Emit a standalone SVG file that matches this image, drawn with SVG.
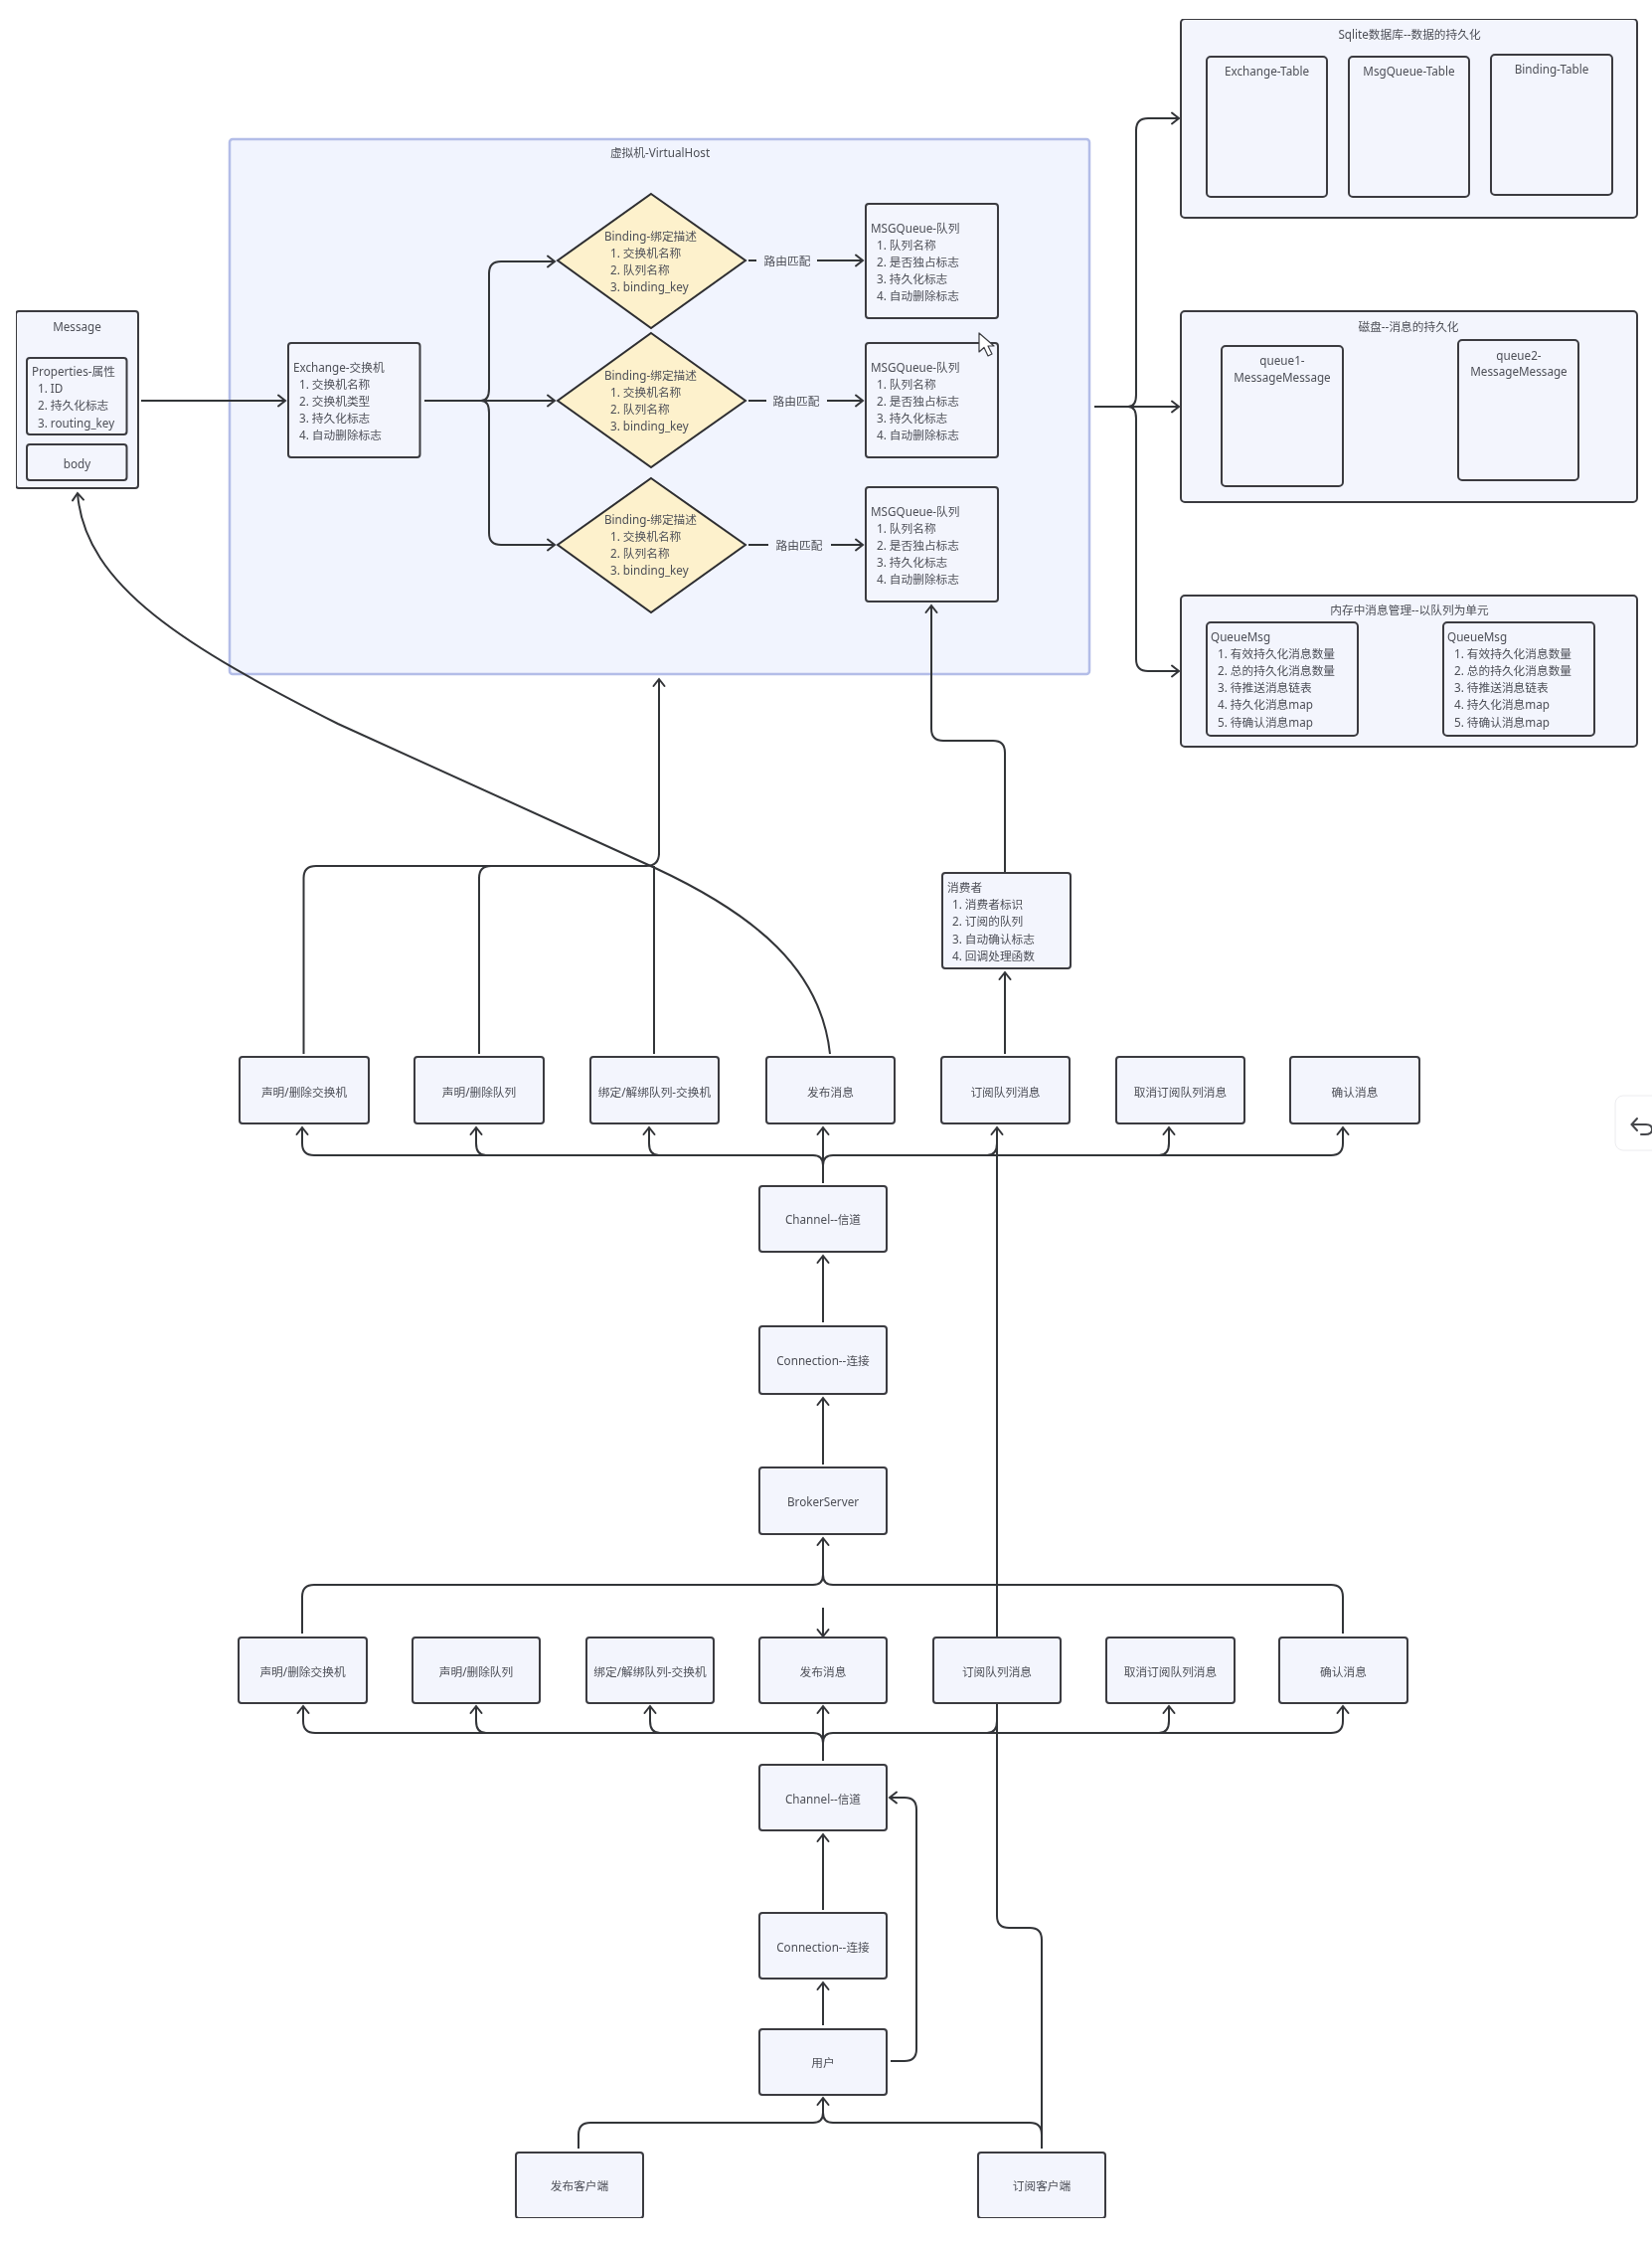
<svg xmlns="http://www.w3.org/2000/svg" width="1662" height="2254" viewBox="0 0 1662 2254">
<style>
text{font-family:"Noto Sans","Noto Sans CJK SC",sans-serif;font-size:11.7px;fill:#4d4f57}
.m{text-anchor:middle;dominant-baseline:central}
.n{fill:#f3f5fd;stroke:#3a3b40;stroke-width:2}
.d{fill:#fdf1cc;stroke:#2e2e30;stroke-width:2}
.v{fill:#f1f4fe;stroke:#b3bde8;stroke-width:2.5}
.c{fill:none;stroke:#333438;stroke-width:2;stroke-linejoin:round;marker-end:url(#a)}
.l{fill:none;stroke:#333438;stroke-width:2;stroke-linejoin:round}
</style>
<defs>
<marker id="a" markerUnits="userSpaceOnUse" markerWidth="14" markerHeight="14" refX="10" refY="7" orient="auto"><path d="M3,1.5 L10,7 L3,12.5" fill="none" stroke="#333438" stroke-width="2" stroke-linecap="round"/></marker>
<filter id="soft" x="0" y="0" width="100%" height="100%"><feGaussianBlur stdDeviation="0.45"/></filter>
</defs>
<rect width="1662" height="2254" fill="#ffffff"/>
<g filter="url(#soft)">
<g id="virtualhost"><rect class="v" x="231" y="140" width="865" height="538" rx="3"/><text class="m" x="664" y="153">虚拟机-VirtualHost</text></g>
<g id="connectors">
<path class="c" d="M142,403 H287"/>
<path class="c" d="M427,403 H558"/>
<path class="c" d="M484,403 Q492,403 492,391 V275 Q492,263 504,263 H558"/>
<path class="c" d="M484,403 Q492,403 492,415 V536 Q492,548 504,548 H558"/>
<path class="l" d="M753,262 H761"/><path class="c" d="M822,262 H868"/>
<path class="l" d="M753,403 H771"/><path class="c" d="M832,403 H868"/>
<path class="l" d="M753,548 H773"/><path class="c" d="M836,548 H868"/>
<path class="c" d="M1101,409 H1186"/>
<path class="c" d="M1135,409 Q1143,409 1143,397 V131 Q1143,119 1155,119 H1186"/>
<path class="c" d="M1135,409 Q1143,409 1143,421 V663 Q1143,675 1155,675 H1186"/>
<path class="l" d="M305.5,1060 V883 Q305.5,871 318,871 H650 Q663,871 663,858"/>
<path class="c" d="M663,860 V683"/>
<path class="l" d="M482,1060 V883 Q482,871 494,871"/>
<path class="l" d="M658,1060 V871"/>
<path class="c" d="M835,1060 C826,975 760,920 659,873 L340,728 C190,652 85,590 78,496"/>
<path class="c" d="M1011,1060 V978"/>
<path class="c" d="M1011,880 V757 Q1011,745 999,745 H949 Q937,745 937,733 V609"/>
<path class="c" d="M828,1190 V1134"/>
<path class="c" d="M828,1172 Q828,1162 818,1162 H316 Q304,1162 304,1150 V1134"/>
<path class="c" d="M489,1162 Q479,1162 479,1150 V1134"/>
<path class="c" d="M663,1162 Q653,1162 653,1150 V1134"/>
<path class="c" d="M828,1172 Q828,1162 838,1162 H1339 Q1351,1162 1351,1150 V1134"/>
<path class="c" d="M1166,1162 Q1176,1162 1176,1150 V1134"/>
<path class="l" d="M993,1162 Q1003,1162 1003,1150"/>
<path class="c" d="M828,1330 V1263"/>
<path class="c" d="M828,1473 V1406"/>
<path class="c" d="M304,1643 V1606 Q304,1594 316,1594 H818 Q828,1594 828,1584 V1547"/>
<path class="l" d="M1351,1643 V1606 Q1351,1594 1339,1594 H838 Q828,1594 828,1584"/>
<path class="c" d="M828,1617 V1646"/>
<path class="c" d="M828,1771 V1716"/>
<path class="c" d="M828,1753 Q828,1743 818,1743 H317 Q305,1743 305,1731 V1716"/>
<path class="c" d="M489,1743 Q479,1743 479,1731 V1716"/>
<path class="c" d="M664,1743 Q654,1743 654,1731 V1716"/>
<path class="c" d="M828,1753 Q828,1743 838,1743 H1339 Q1351,1743 1351,1731 V1716"/>
<path class="c" d="M1166,1743 Q1176,1743 1176,1731 V1716"/>
<path class="l" d="M993,1743 Q1003,1743 1003,1731"/>
<path class="c" d="M1048,2161 V1951 Q1048,1939 1036,1939 H1015 Q1003,1939 1003,1927 V1134"/>
<path class="c" d="M828,1921 V1845"/>
<path class="c" d="M828,2037 V1994"/>
<path class="c" d="M896,2073 H910 Q922,2073 922,2061 V1820 Q922,1808 910,1808 H895"/>
<path class="c" d="M582,2161 V2147 Q582,2135 594,2135 H818 Q828,2135 828,2125 V2110"/>
<path class="l" d="M1048,2147 Q1048,2135 1036,2135 H838 Q828,2135 828,2125"/>
</g>
<g id="message"><rect class="n" x="16" y="313" width="123" height="178" rx="3"/><text class="m" x="77.500" y="328">Message</text></g>
<g id="properties"><rect class="n" x="27" y="360" width="100.500" height="77" rx="3"/><text x="32" y="378">Properties-属性</text><text x="38" y="395">1. ID</text><text x="38" y="412">2. 持久化标志</text><text x="38" y="430">3. routing_key</text></g>
<g id="body"><rect class="n" x="27" y="447" width="100.500" height="36" rx="3"/><text class="m" x="77.500" y="466">body</text></g>
<g id="exchange"><rect class="n" x="290" y="345" width="132.500" height="115" rx="3"/><text x="295" y="374">Exchange-交换机</text><text x="301" y="391">1. 交换机名称</text><text x="301" y="408">2. 交换机类型</text><text x="301" y="425">3. 持久化标志</text><text x="301" y="442">4. 自动删除标志</text></g>
<g id="binding1"><polygon class="d" points="655,195 750,262 655,330 561,262"/><text x="608" y="242">Binding-绑定描述</text><text x="614" y="259">1. 交换机名称</text><text x="614" y="276">2. 队列名称</text><text x="614" y="293">3. binding_key</text></g>
<g id="binding2"><polygon class="d" points="655,335 750,403 655,470 561,403"/><text x="608" y="382">Binding-绑定描述</text><text x="614" y="399">1. 交换机名称</text><text x="614" y="416">2. 队列名称</text><text x="614" y="433">3. binding_key</text></g>
<g id="binding3"><polygon class="d" points="655,481 750,548 655,616 561,548"/><text x="608" y="527">Binding-绑定描述</text><text x="614" y="544">1. 交换机名称</text><text x="614" y="561">2. 队列名称</text><text x="614" y="578">3. binding_key</text></g>
<g id="route-labels"><text class="m" x="792" y="262">路由匹配</text><text class="m" x="801" y="403">路由匹配</text><text class="m" x="804" y="548">路由匹配</text></g>
<g id="queue1"><rect class="n" x="871" y="205" width="133" height="115" rx="3"/><text x="876" y="234">MSGQueue-队列</text><text x="882" y="251">1. 队列名称</text><text x="882" y="268">2. 是否独占标志</text><text x="882" y="285">3. 持久化标志</text><text x="882" y="302">4. 自动删除标志</text></g>
<g id="queue2"><rect class="n" x="871" y="345" width="133" height="115" rx="3"/><text x="876" y="374">MSGQueue-队列</text><text x="882" y="391">1. 队列名称</text><text x="882" y="408">2. 是否独占标志</text><text x="882" y="425">3. 持久化标志</text><text x="882" y="442">4. 自动删除标志</text></g>
<g id="queue3"><rect class="n" x="871" y="490" width="133" height="115" rx="3"/><text x="876" y="519">MSGQueue-队列</text><text x="882" y="536">1. 队列名称</text><text x="882" y="553">2. 是否独占标志</text><text x="882" y="570">3. 持久化标志</text><text x="882" y="587">4. 自动删除标志</text></g>
<g id="sqlite"><rect class="n" x="1188" y="19" width="459" height="200" rx="4"/><text class="m" x="1418" y="34">Sqlite数据库--数据的持久化</text></g>
<g id="exchange-table"><rect class="n" x="1214" y="57" width="121" height="141" rx="4"/><text class="m" x="1274.500" y="71">Exchange-Table</text></g>
<g id="msgqueue-table"><rect class="n" x="1357" y="57" width="121" height="141" rx="4"/><text class="m" x="1417.500" y="71">MsgQueue-Table</text></g>
<g id="binding-table"><rect class="n" x="1500" y="55" width="122" height="141" rx="4"/><text class="m" x="1561" y="69">Binding-Table</text></g>
<g id="disk"><rect class="n" x="1188" y="313" width="459" height="192" rx="4"/><text class="m" x="1417" y="328">磁盘--消息的持久化</text></g>
<g id="disk-queue1"><rect class="n" x="1229" y="348" width="122" height="141" rx="4"/><text class="m" x="1290" y="362">queue1-</text><text class="m" x="1290" y="379">MessageMessage</text></g>
<g id="disk-queue2"><rect class="n" x="1467" y="342" width="121" height="141" rx="4"/><text class="m" x="1528" y="357">queue2-</text><text class="m" x="1528" y="373">MessageMessage</text></g>
<g id="memory"><rect class="n" x="1188" y="599" width="459" height="152" rx="4"/><text class="m" x="1418" y="613">内存中消息管理--以队列为单元</text></g>
<g id="queuemsg1"><rect class="n" x="1214" y="626" width="152" height="114" rx="4"/><text x="1218" y="645">QueueMsg</text><text x="1225" y="662">1. 有效持久化消息数量</text><text x="1225" y="679">2. 总的持久化消息数量</text><text x="1225" y="696">3. 待推送消息链表</text><text x="1225" y="713">4. 持久化消息map</text><text x="1225" y="731">5. 待确认消息map</text></g>
<g id="queuemsg2"><rect class="n" x="1452" y="626" width="152" height="114" rx="4"/><text x="1456" y="645">QueueMsg</text><text x="1463" y="662">1. 有效持久化消息数量</text><text x="1463" y="679">2. 总的持久化消息数量</text><text x="1463" y="696">3. 待推送消息链表</text><text x="1463" y="713">4. 持久化消息map</text><text x="1463" y="731">5. 待确认消息map</text></g>
<g id="consumer"><rect class="n" x="948" y="878" width="129" height="96" rx="3"/><text x="953" y="897">消费者</text><text x="958" y="914">1. 消费者标识</text><text x="958" y="931">2. 订阅的队列</text><text x="958" y="949">3. 自动确认标志</text><text x="958" y="966">4. 回调处理函数</text></g>
<g id="r1-1"><rect class="n" x="241" y="1063" width="130" height="67" rx="3"/><text class="m" x="306" y="1098">声明/删除交换机</text></g>
<g id="r1-2"><rect class="n" x="417" y="1063" width="130" height="67" rx="3"/><text class="m" x="482" y="1098">声明/删除队列</text></g>
<g id="r1-3"><rect class="n" x="594" y="1063" width="129" height="67" rx="3"/><text class="m" x="658.500" y="1098">绑定/解绑队列-交换机</text></g>
<g id="r1-4"><rect class="n" x="771" y="1063" width="129" height="67" rx="3"/><text class="m" x="835.500" y="1098">发布消息</text></g>
<g id="r1-5"><rect class="n" x="947" y="1063" width="129" height="67" rx="3"/><text class="m" x="1011.500" y="1098">订阅队列消息</text></g>
<g id="r1-6"><rect class="n" x="1123" y="1063" width="129" height="67" rx="3"/><text class="m" x="1187.500" y="1098">取消订阅队列消息</text></g>
<g id="r1-7"><rect class="n" x="1298" y="1063" width="130" height="67" rx="3"/><text class="m" x="1363" y="1098">确认消息</text></g>
<g id="channel1"><rect class="n" x="764" y="1193" width="128" height="66" rx="3"/><text class="m" x="828" y="1226">Channel--信道</text></g>
<g id="connection1"><rect class="n" x="764" y="1334" width="128" height="68" rx="3"/><text class="m" x="828" y="1368">Connection--连接</text></g>
<g id="broker"><rect class="n" x="764" y="1476" width="128" height="67" rx="3"/><text class="m" x="828" y="1510">BrokerServer</text></g>
<g id="r2-1"><rect class="n" x="240" y="1647" width="129" height="66" rx="3"/><text class="m" x="304.500" y="1681">声明/删除交换机</text></g>
<g id="r2-2"><rect class="n" x="415" y="1647" width="128" height="66" rx="3"/><text class="m" x="479" y="1681">声明/删除队列</text></g>
<g id="r2-3"><rect class="n" x="590" y="1647" width="128" height="66" rx="3"/><text class="m" x="654" y="1681">绑定/解绑队列-交换机</text></g>
<g id="r2-4"><rect class="n" x="764" y="1647" width="128" height="66" rx="3"/><text class="m" x="828" y="1681">发布消息</text></g>
<g id="r2-5"><rect class="n" x="939" y="1647" width="128" height="66" rx="3"/><text class="m" x="1003" y="1681">订阅队列消息</text></g>
<g id="r2-6"><rect class="n" x="1113" y="1647" width="129" height="66" rx="3"/><text class="m" x="1177.500" y="1681">取消订阅队列消息</text></g>
<g id="r2-7"><rect class="n" x="1287" y="1647" width="129" height="66" rx="3"/><text class="m" x="1351.500" y="1681">确认消息</text></g>
<g id="channel2"><rect class="n" x="764" y="1775" width="128" height="66" rx="3"/><text class="m" x="828" y="1809">Channel--信道</text></g>
<g id="connection2"><rect class="n" x="764" y="1924" width="128" height="66" rx="3"/><text class="m" x="828" y="1958">Connection--连接</text></g>
<g id="user"><rect class="n" x="764" y="2041" width="128" height="66" rx="3"/><text class="m" x="828" y="2074">用户</text></g>
<g id="publisher"><rect class="n" x="519" y="2165" width="128" height="66" rx="3"/><text class="m" x="583" y="2198">发布客户端</text></g>
<g id="subscriber"><rect class="n" x="984" y="2165" width="128" height="66" rx="3"/><text class="m" x="1048" y="2198">订阅客户端</text></g>
<g id="cursor"><path d="M985,335 L985,354 L990,349.500 L994,358 L998,356 L994,348 L1000,348 Z" fill="#ffffff" stroke="#3a3b40" stroke-width="1.200" stroke-linejoin="round"/></g>
<g id="undo-button"><rect x="1625" y="1102" width="50" height="55" rx="8" fill="#ffffff" stroke="#ececef" stroke-width="1"/><path d="M1647,1125 L1641.500,1131 L1647,1137 M1642,1131 H1656 Q1662,1131 1662,1136 Q1662,1141 1655,1141 H1651" fill="none" stroke="#45464b" stroke-width="2" stroke-linecap="round"/></g>
</g>
</svg>
